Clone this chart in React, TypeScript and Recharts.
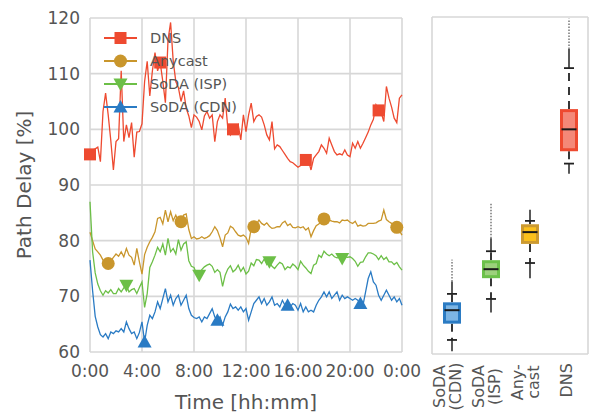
import React from 'react';
import { LineChart, Line, XAxis, YAxis, CartesianGrid, Legend, ComposedChart, Bar, Label } from 'recharts';

const SAMPLE_MINUTES = 12;

const DNS = [95.5, 96.3, 96.5, 96.8, 94.2, 103.2, 106.5, 102.6, 98, 92.7,
  97.8, 98.3, 110.5, 97.8, 100.8, 98.5, 101.2, 95, 99.5, 99.6,
  101, 108.6, 112.2, 106, 110.5, 113.8, 110.5, 112, 108.6, 104.8,
  116, 119.2, 112.3, 108.6, 107.5, 105, 106.9, 103.8, 102.4, 100.3,
  102.6, 102.2, 101.4, 99.9, 102.4, 103.2, 102, 102.6, 97.8, 101.4,
  102.6, 102, 105.6, 100.2, 99, 100, 100.2, 100.8, 98.1, 102.6,
  99.6, 102.6, 104.7, 101.4, 102.3, 102.6, 102.2, 100.8, 99, 98.1,
  101.4, 96.5, 97.2, 96.9, 96.2, 95.5, 94.8, 94.2, 94, 93.6,
  93.2, 93.5, 94.5, 94.5, 94.5, 92.7, 94.8, 95.4, 96, 97.2,
  96.6, 95.7, 98.4, 97.2, 96, 95.4, 95.6, 95.4, 96.3, 95.4,
  95.1, 97.5, 96.6, 97.8, 96.6, 97.5, 98.5, 99.5, 100.8, 101.8,
  104.4, 103.4, 103, 101.4, 107.7, 105.6, 104, 102, 101.2, 105.6,
  106.2];

const ANYCAST = [81.5, 80, 78.5, 78, 77.4, 76.5, 75.9, 75.9, 76.4, 77,
  77.6, 77.2, 78, 77.1, 78.6, 77.4, 77, 75.6, 78.6, 76.2,
  74, 77.5, 78.8, 79.8, 80.6, 81.6, 84, 84.2, 83, 85.5,
  83.4, 85.2, 83.6, 84.6, 83.4, 83.4, 84.6, 84.8, 82, 80.4,
  80.7, 80.3, 80.4, 80.7, 80.4, 80.6, 80.9, 81.6, 82.5, 81.8,
  80.5, 78.9, 81, 81.4, 82.6, 82.3, 81.6, 81, 80.8, 81,
  80.6, 79.5, 82.2, 82.5, 83, 83.7, 83.1, 82.8, 83.2, 82.6,
  82.2, 82.3, 82.5, 82.5, 83.2, 83.5, 82.7, 83, 82.4, 82.3,
  82.5, 82.3, 82.5, 81.9, 82.3, 80.7, 81.8, 82.7, 83, 83.5,
  83.9, 83.4, 83.7, 83.5, 83.4, 83.4, 83.2, 83.7, 83.6, 83.7,
  83.3, 83.1, 83.5, 82.6, 82.8, 82.6, 82.7, 83.1, 83.1, 83.1,
  83.2, 83.5, 83.7, 85.5, 83.8, 83.4, 83.1, 82.8, 82.4, 81.8,
  81];

const SODA_ISP = [87, 78, 74.2, 72.2, 71, 70.2, 71, 70.6, 71.2, 70.5,
  70.5, 71.4, 70.8, 71.5, 72, 70.8, 71.2, 71.4, 70.5, 71.6,
  72.6, 68, 70.5, 75.2, 76.2, 77.4, 78.8, 78, 79.4, 77.4,
  80.4, 78, 78.6, 77.6, 80.2, 78.3, 79.4, 79.8, 76.4, 75.4,
  75.2, 74, 73.8, 74.8, 75.3, 75.6, 75.8, 75.4, 74.3, 74.8,
  74.3, 71.8, 73.8, 74.9, 75.5, 74.4, 74.8, 75.6, 74.5, 75.2,
  74, 74.5, 76, 75.5, 76.6, 76.5, 75.9, 76.7, 75.7, 76.2,
  75.4, 75, 75.6, 76.1, 75.8, 74.8, 75.3, 75.1, 75.8, 75.4,
  74.8, 76.3, 75.6, 75.1, 74.5, 74.1, 75.6, 75.9, 77.4, 77,
  78.1, 77.6, 77.3, 77.6, 77.1, 76.9, 77, 76.8, 77.1, 77,
  77.1, 76.8, 76.3, 75.4, 76.1, 76.2, 77.1, 77.8, 77.8, 77.6,
  77.3, 76.6, 77.3, 76.6, 77, 76.2, 76.2, 75.7, 76.1, 75.3,
  74.7];

const SODA_CDN = [76.5, 71, 66.4, 64.5, 63.1, 62.7, 63.3, 62.4, 63.6, 63.3,
  63.8, 63.6, 64.2, 63.6, 65.4, 64.2, 63.3, 63.6, 62.4, 63.5,
  65.4, 61.8, 64.8, 66.6, 66, 67.2, 69, 67.8, 69.6, 71.4,
  69, 70.2, 68.4, 69.6, 70.2, 68.4, 69.3, 70.2, 67.8, 66.6,
  66.2, 66, 66.3, 65.4, 66.3, 66, 66.9, 67.8, 66.3, 65.7,
  66.3, 64.8, 66.3, 67.2, 68.6, 67.8, 68.1, 67.5, 68.1, 67.2,
  67.8, 65.7, 67.2, 68.7, 69.3, 69.9, 68.7, 69.6, 68.4, 69,
  69.9, 68.4, 68.7, 68.1, 69.3, 68.4, 68.4, 68.1, 68.7, 68.4,
  67.5, 68.7, 67.2, 68.1, 67.2, 67.5, 67.2, 68.4, 69.3, 69.9,
  70.8, 69.9, 70.8, 69.6, 70.2, 70.8, 69.3, 70.2, 69.6, 69.9,
  69.6, 69.3, 69.6, 69.3, 68.7, 68.4, 70.8, 73.2, 74.4, 72.6,
  72, 70.2, 69.3, 70.2, 71.1, 70.2, 69.3, 69.9, 69, 69.6,
  68.4];

const X_TICKS = [0, 4, 8, 12, 16, 20, 24];
const X_TICK_LABELS = ['0:00', '4:00', '8:00', '12:00', '16:00', '20:00', '0:00'];
const Y_TICKS = [60, 70, 80, 90, 100, 110, 120];

const DNS_MARKERS = [0, 27, 55, 83, 111];
const ANYCAST_MARKERS = [7, 35, 63, 90, 118];
const ISP_MARKERS = [14, 42, 69, 97];
const CDN_MARKERS = [21, 49, 76, 104];

const BOX_CATEGORIES = ['SoDA (CDN)', 'SoDA (ISP)', 'Anycast', 'DNS'];
const BOX_LABELS = [['SoDA', '(CDN)'], ['SoDA', '(ISP)'], ['Any-', 'cast'], ['DNS']];
const BOX_Q1 = [65.4, 73.5, 79.6, 96.1];
const BOX_MEDIAN = [67.8, 75.1, 81.7, 100.0];
const BOX_Q3 = [69.2, 76.7, 83.1, 103.6];
const BOX_WHISKER_LOW = [62.5, 69.8, 76.2, 93.9];
const BOX_WHISKER_HIGH = [70.7, 78.3, 83.7, 110.9];
const BOX_FLIER_LOW = [60.5, 67.4, 73.5, 92.1];
const BOX_FLIER_DENSE_HIGH = [72.9, 80.6, 85.7, 114.3];
const BOX_FLIER_HIGH = [76.8, 87.0, 85.7, 119.7];
const BOX_FILL = ['#7db5e4', '#9cd17c', '#fcc11c', '#f48878'];
const BOX_EDGE = ['#2b7bc3', '#6cc14a', '#cc9a30', '#ee4a30'];

const SERIES = [
  { key: 'dns', name: 'DNS', color: '#ee4a30', shape: 'square', markers: DNS_MARKERS },
  { key: 'anycast', name: 'Anycast', color: '#c9962c', shape: 'circle', markers: ANYCAST_MARKERS },
  { key: 'isp', name: 'SoDA (ISP)', color: '#6cbf47', shape: 'triDown', markers: ISP_MARKERS },
  { key: 'cdn', name: 'SoDA (CDN)', color: '#2a7bc4', shape: 'triUp', markers: CDN_MARKERS },
];

const rows = DNS.map((v, i) => ({
  t: (i * SAMPLE_MINUTES) / 60,
  dns: v,
  anycast: ANYCAST[i],
  isp: SODA_ISP[i],
  cdn: SODA_CDN[i],
}));

const boxRows = BOX_CATEGORIES.map((name, i) => ({
  name,
  idx: i,
  box: [BOX_Q1[i], BOX_Q3[i]],
  q1: BOX_Q1[i],
  q3: BOX_Q3[i],
  med: BOX_MEDIAN[i],
  wLo: BOX_WHISKER_LOW[i],
  wHi: BOX_WHISKER_HIGH[i],
  fLo: BOX_FLIER_LOW[i],
  dHi: BOX_FLIER_DENSE_HIGH[i],
  fHi: BOX_FLIER_HIGH[i],
}));

const TEXT = '#555555';
const GRID = '#d7d7d7';
const FONT = '"DejaVu Sans", sans-serif';

function Marker({ shape, cx, cy, color }: any) {
  if (shape === 'square') return <rect x={cx - 6} y={cy - 6} width={12} height={12} fill={color} />;
  if (shape === 'circle') return <circle cx={cx} cy={cy} r={6.5} fill={color} />;
  if (shape === 'triDown')
    return <polygon points={`${cx - 7},${cy - 5.5} ${cx + 7},${cy - 5.5} ${cx},${cy + 7}`} fill={color} />;
  return <polygon points={`${cx - 7},${cy + 5.5} ${cx + 7},${cy + 5.5} ${cx},${cy - 7}`} fill={color} />;
}

const makeDot = (s: any) => (props: any) => {
  const { cx, cy, index } = props;
  if (!s.markers.includes(index) || cx == null || cy == null) return <g key={`${s.key}-d-${index}`} />;
  return (
    <g key={`${s.key}-d-${index}`}>
      <Marker shape={s.shape} cx={cx} cy={cy} color={s.color} />
    </g>
  );
};

const renderLegend = () => (
  <svg width={210} height={100} style={{ overflow: 'visible', fontFamily: FONT }}>
    {SERIES.map((s, i) => {
      const y = 12 + i * 23;
      return (
        <g key={s.key}>
          <line x1={9} x2={42} y1={y} y2={y} stroke={s.color} strokeWidth={1.8} />
          <Marker shape={s.shape} cx={25.5} cy={y} color={s.color} />
          <text x={55} y={y} dominantBaseline="central" fontSize={14.5} fill={TEXT}>
            {s.name}
          </text>
        </g>
      );
    })}
  </svg>
);

const YTitle = (props: any) => {
  const vb = props.viewBox || {};
  const cx = (vb.x ?? 30) - 6;
  const cy = (vb.y ?? 18) + (vb.height ?? 334) / 2;
  return (
    <text x={cx} y={cy} transform={`rotate(-90, ${cx}, ${cy})`} textAnchor="middle" dominantBaseline="central" fontSize={20} fill={TEXT}>
      Path Delay [%]
    </text>
  );
};

const XTitle = (props: any) => {
  const vb = props.viewBox || {};
  const cx = (vb.x ?? 90) + (vb.width ?? 312) / 2;
  const y = (vb.y ?? 352) + 57;
  return (
    <text x={cx} y={y} textAnchor="middle" fontSize={20} fill={TEXT}>
      Time [hh:mm]
    </text>
  );
};

const charW = (ch: string) => {
  if (/[A-Z]/.test(ch)) return 0.72;
  if (/[a-z]/.test(ch)) return 0.6;
  return 0.39;
};

const BoxTick = (props: any) => {
  const { x, y, payload } = props;
  const i = BOX_CATEGORIES.indexOf(payload.value);
  const lines = BOX_LABELS[i] || [payload.value];
  const fs = 16;
  const maxW = Math.max(...lines.map((l) => l.split('').reduce((a, c) => a + charW(c), 0) * fs));
  const cy = y + 1 + maxW / 2;
  const offsets = lines.length === 2 ? [-12, 4] : [-2];
  return (
    <g>
      {lines.map((l, k) => {
        const cx = x + offsets[k];
        return (
          <text key={k} x={cx} y={cy} transform={`rotate(-90, ${cx}, ${cy})`} textAnchor="middle" dominantBaseline="central" fontSize={fs} fill={TEXT}>
            {l}
          </text>
        );
      })}
    </g>
  );
};

const BoxShape = (props: any) => {
  const { x, y, width, height, payload } = props;
  const { q1, q3, med, wLo, wHi, fLo, dHi, fHi, idx } = payload;
  const top = Math.min(y, y + height);
  const bottom = Math.max(y, y + height);
  const k = (bottom - top) / (q3 - q1);
  const Y = (v: number) => top + (q3 - v) * k;
  const cx = x + width / 2;
  const dark = '#222222';
  return (
    <g>
      <line x1={cx} x2={cx} y1={Y(dHi)} y2={Y(fHi)} stroke="#333" strokeWidth={1} strokeDasharray="1.5 1.5" />
      <line x1={cx} x2={cx} y1={Y(wHi)} y2={Y(dHi)} stroke={dark} strokeWidth={1.5} />
      <line x1={cx} x2={cx} y1={Y(wLo)} y2={Y(fLo)} stroke={dark} strokeWidth={1.5} />
      <line x1={cx} x2={cx} y1={Y(q3)} y2={Y(wHi)} stroke={dark} strokeWidth={1.8} strokeDasharray="8 6" />
      <line x1={cx} x2={cx} y1={Y(q1)} y2={Y(wLo)} stroke={dark} strokeWidth={1.8} strokeDasharray="8 6" />
      <line x1={cx - 5} x2={cx + 5} y1={Y(wHi)} y2={Y(wHi)} stroke={dark} strokeWidth={1.8} />
      <line x1={cx - 5} x2={cx + 5} y1={Y(wLo)} y2={Y(wLo)} stroke={dark} strokeWidth={1.8} />
      <rect x={x + 1.5} y={top + 1.5} width={width - 3} height={bottom - top - 3} fill={BOX_FILL[idx]} stroke={BOX_EDGE[idx]} strokeWidth={3} />
      <line x1={x + 1.5} x2={x + width - 1.5} y1={Y(med)} y2={Y(med)} stroke="#1a1a1a" strokeWidth={2} />
    </g>
  );
};

export default function App() {
  const tickStyle = { fill: TEXT, fontSize: 17 };
  return (
    <div style={{ position: 'absolute', left: 0, top: 0, width: 595, height: 416, background: '#fff', fontFamily: FONT }}>
      <div style={{ position: 'absolute', left: 0, top: 0 }}>
        <LineChart width={424} height={416} data={rows} margin={{ top: 18, right: 22, left: 30, bottom: 34 }}>
          <CartesianGrid stroke={GRID} strokeWidth={1.6} />
          <XAxis
            type="number"
            dataKey="t"
            domain={[0, 24]}
            ticks={X_TICKS}
            interval={0}
            tickFormatter={(v: number) => X_TICK_LABELS[X_TICKS.indexOf(v)]}
            tickLine={false}
            axisLine={false}
            tickSize={0}
            tickMargin={13}
            height={30}
            tick={tickStyle}
          >
            <Label content={<XTitle />} />
          </XAxis>
          <YAxis
            type="number"
            domain={[60, 120]}
            ticks={Y_TICKS}
            interval={0}
            tickLine={false}
            axisLine={false}
            tickSize={0}
            tickMargin={10}
            width={60}
            tick={tickStyle}
          >
            <Label content={<YTitle />} />
          </YAxis>
          <Legend
            content={renderLegend}
            layout="horizontal"
            verticalAlign="middle"
            align="center"
            wrapperStyle={{ position: 'absolute', left: 95, top: 26, width: 210, height: 100 }}
          />
          {SERIES.map((s) => (
            <Line
              key={s.key}
              type="linear"
              dataKey={s.key}
              name={s.name}
              stroke={s.color}
              strokeWidth={1.3}
              dot={makeDot(s)}
              activeDot={false}
              isAnimationActive={false}
            />
          ))}
        </LineChart>
      </div>
      <div style={{ position: 'absolute', left: 424, top: 0 }}>
        <ComposedChart width={171} height={416} data={boxRows} margin={{ top: 17, right: 7, left: 8, bottom: 12 }}>
          <CartesianGrid
            stroke={GRID}
            strokeWidth={1.6}
            verticalCoordinatesGenerator={(p: any) => [p.offset.left, p.offset.left + p.offset.width]}
          />
          <XAxis dataKey="name" type="category" interval={0} tickLine={false} axisLine={false} tickSize={6} tickMargin={2} height={50} tick={<BoxTick />} />
          <YAxis type="number" domain={[60, 120]} ticks={Y_TICKS} width={0} tick={false} axisLine={false} tickLine={false} />
          <Bar dataKey="box" barSize={18} shape={BoxShape} isAnimationActive={false} />
        </ComposedChart>
      </div>
    </div>
  );
}
